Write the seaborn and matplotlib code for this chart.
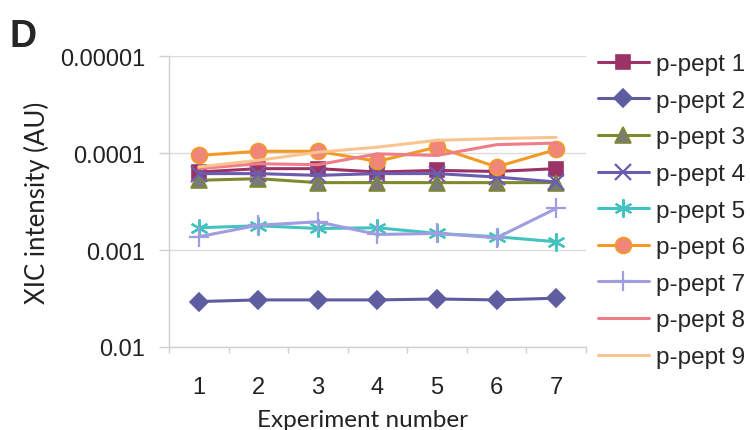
import numpy as np
import pandas as pd
import matplotlib
matplotlib.use('Agg')
import matplotlib.pyplot as plt
import seaborn as sns

# Values (XIC intensity, AU)
experiments = [1, 2, 3, 4, 5, 6, 7]
pept1 = [1.57e-4, 1.45e-4, 1.45e-4, 1.57e-4, 1.51e-4, 1.55e-4, 1.45e-4]
pept2 = [3.40e-3, 3.27e-3, 3.27e-3, 3.27e-3, 3.20e-3, 3.27e-3, 3.14e-3]
pept3 = [1.91e-4, 1.84e-4, 2.02e-4, 2.02e-4, 2.02e-4, 2.02e-4, 2.02e-4]
pept4 = [1.63e-4, 1.63e-4, 1.70e-4, 1.63e-4, 1.63e-4, 1.77e-4, 1.99e-4]
pept5 = [5.90e-4, 5.62e-4, 6.00e-4, 5.90e-4, 6.75e-4, 7.30e-4, 8.22e-4]
pept6 = [1.06e-4, 0.96e-4, 0.96e-4, 1.22e-4, 0.87e-4, 1.39e-4, 0.92e-4]
pept7 = [7.30e-4, 5.55e-4, 5.12e-4, 6.92e-4, 6.75e-4, 7.48e-4, 3.73e-4]
pept8 = [1.45e-4, 1.29e-4, 1.32e-4, 1.02e-4, 1.06e-4, 0.82e-4, 0.79e-4]
pept9 = [1.39e-4, 1.19e-4, 0.98e-4, 0.87e-4, 0.74e-4, 0.71e-4, 0.69e-4]

names = ['p-pept 1', 'p-pept 2', 'p-pept 3', 'p-pept 4', 'p-pept 5',
         'p-pept 6', 'p-pept 7', 'p-pept 8', 'p-pept 9']
series = [pept1, pept2, pept3, pept4, pept5, pept6, pept7, pept8, pept9]
y_ticks = [1e-5, 1e-4, 1e-3, 1e-2]

df = pd.DataFrame({'experiment': np.tile(experiments, len(names)),
                   'intensity': np.concatenate(series),
                   'peptide': np.repeat(names, len(experiments))})

# line colour, marker, marker face, marker edge, marker size
styles = {
    'p-pept 1': ('#9b3366', 's', '#9b3366', '#9b3366', 10.5),
    'p-pept 2': ('#5d5d9f', 'D', '#5d5d9f', '#5d5d9f', 9),
    'p-pept 3': ('#7f8a2c', '^', '#7a7a76', '#7f8a2c', 11.5),
    'p-pept 4': ('#6a5db0', 'x', '#6a5db0', '#6a5db0', 11),
    'p-pept 5': ('#42c2c0', (6, 2, 0), '#42c2c0', '#42c2c0', 13),
    'p-pept 6': ('#f39a26', 'o', '#f0857a', '#f39a26', 11.5),
    'p-pept 7': ('#a09ee0', '+', '#a09ee0', '#a09ee0', 14),
    'p-pept 8': ('#ef7d88', None, '#ef7d88', '#ef7d88', 0),
    'p-pept 9': ('#fbc390', None, '#fbc390', '#fbc390', 0),
}

sns.set_style('white')
plt.rcParams['font.family'] = ['Liberation Sans', 'DejaVu Sans']

fig = plt.figure(figsize=(7.5, 4.31), dpi=100)
ax = fig.add_axes([0.2253, 0.1926, 0.556, 0.6751])

for name in names:
    color, marker, face, edge, size = styles[name]
    thin = marker in ('x', '+', (6, 2, 0))
    sns.lineplot(data=df[df.peptide == name], x='experiment', y='intensity',
                 ax=ax, color=color, linewidth=2.2, marker=marker,
                 markersize=size, markerfacecolor=face,
                 markeredgecolor=edge, markeredgewidth=1.6 if thin else 1.2,
                 label=name)

ax.set_yscale('log')
ax.set_ylim(1e-2, 1e-5)
ax.set_yticks(y_ticks)
ax.set_yticklabels([np.format_float_positional(v) for v in y_ticks])
ax.yaxis.set_minor_locator(matplotlib.ticker.NullLocator())
ax.set_xlim(0.5, 7.5)
ax.set_xticks(experiments)
ax.set_xticks(np.arange(0.5, 8, 1), minor=True)
ax.tick_params(axis='x', which='major', length=0, pad=21, labelsize=17,
               colors='#222222')
ax.tick_params(axis='x', which='minor', length=4, width=1, color='#d0d0d0',
               bottom=True)
ax.tick_params(axis='y', which='major', length=7, width=1, color='#d0d0d0',
               pad=10, labelsize=17, left=True, labelcolor='#222222')

ax.grid(axis='y', color='#dcdcdc', linewidth=1)
ax.set_axisbelow(True)
for side in ['top', 'right']:
    ax.spines[side].set_visible(False)
for side in ['left', 'bottom']:
    ax.spines[side].set_color('#d0d0d0')
    ax.spines[side].set_linewidth(1)

ax.set_xlabel('Experiment number', family='Lato', fontsize=17.5,
              color='#222222')
ax.xaxis.set_label_coords(0.463, -0.25)
ax.xaxis.label.set_va('center')
ax.set_ylabel('XIC intensity (AU)', family='Lato', fontsize=18.5,
              color='#222222', labelpad=7)

handles, labels = ax.get_legend_handles_labels()
if ax.legend_:
    ax.legend_.remove()
fig.legend(handles, labels, loc='center left',
           bbox_to_anchor=(0.797, 0.509), frameon=False, fontsize=17.5,
           handlelength=2.1, handletextpad=0.3, labelspacing=0.6,
           borderpad=0, borderaxespad=0)

fig.text(0.012, 0.955, 'D', fontsize=27, fontweight='bold', va='top',
         ha='left')

fig.savefig('out.png', dpi=100, facecolor='white')
